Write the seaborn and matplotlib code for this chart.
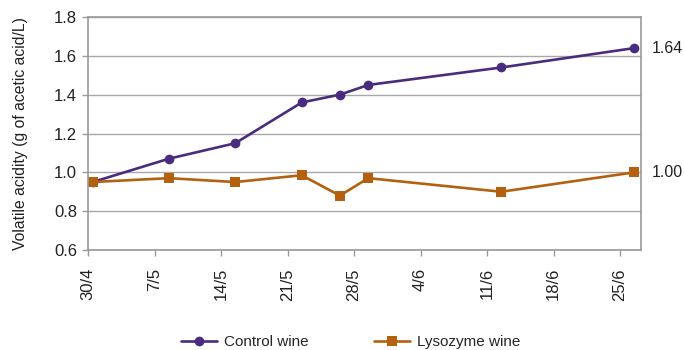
import matplotlib
matplotlib.use("Agg")
import matplotlib.pyplot as plt
import seaborn as sns
import pandas as pd
import numpy as np
from matplotlib.lines import Line2D

# ---- data ----
sample_dates = ["2010-04-30", "2010-05-08", "2010-05-15", "2010-05-22",
                "2010-05-26", "2010-05-29", "2010-06-12", "2010-06-26"]
control_wine = [0.95, 1.07, 1.15, 1.36, 1.40, 1.45, 1.54, 1.64]
lysozyme_wine = [0.95, 0.97, 0.95, 0.985, 0.88, 0.97, 0.90, 1.00]
tick_dates = ["2010-04-30", "2010-05-07", "2010-05-14", "2010-05-21", "2010-05-28",
              "2010-06-04", "2010-06-11", "2010-06-18", "2010-06-25"]
tick_labels = ["30/4", "7/5", "14/5", "21/5", "28/5", "4/6", "11/6", "18/6", "25/6"]
y_ticks = [0.6, 0.8, 1.0, 1.2, 1.4, 1.6, 1.8]
series_names = ["Control wine", "Lysozyme wine"]
end_labels = ["1.64", "1.00"]

sns.set_style("white")
plt.rcParams['font.family'] = ['Liberation Sans', 'DejaVu Sans']

dates = pd.to_datetime(sample_dates) + pd.Timedelta(hours=12)
df = pd.DataFrame({
    "date": list(dates) * 2,
    "value": control_wine + lysozyme_wine,
    "series": [series_names[0]] * len(dates) + [series_names[1]] * len(dates),
})

purple = "#4A2C7E"
orange = "#B5600F"
grid_gray = "#A8A8A8"
txt = "#222222"

fig = plt.figure(figsize=(6.84, 3.5), dpi=100)
ax = fig.add_axes([88 / 684, 1 - 250 / 350, (641 - 88) / 684, (250 - 17) / 350])

sns.lineplot(data=df, x="date", y="value", hue="series", style="series",
             palette=[purple, orange], markers=["o", "s"], dashes=False,
             markersize=7, linewidth=1.9, markeredgewidth=0, ax=ax, legend=False)

start = pd.Timestamp("2010-04-30")
ax.set_xlim(start, start + pd.Timedelta(days=58.2))
ax.set_ylim(0.6, 1.8)
ax.set_yticks(y_ticks)
ax.set_yticklabels([f"{v:.1f}" for v in y_ticks], fontsize=12, color=txt)
ax.set_xticks(pd.to_datetime(tick_dates))
ax.set_xticklabels(tick_labels, rotation=90, fontsize=12, color=txt)
ax.yaxis.grid(True, color=grid_gray, linewidth=1)
ax.xaxis.grid(False)
ax.set_axisbelow(True)
for s in ax.spines.values():
    s.set_color("#999999")
    s.set_linewidth(1.2)
ax.tick_params(axis="both", which="both", length=4, width=1, color="#999999",
               direction="out", pad=4, left=True, bottom=True)
ax.tick_params(axis="x", pad=9)
ax.set_xlabel("")
ax.set_ylabel("Volatile acidity (g of acetic acid/L)", fontsize=11.3, color=txt)
ax.yaxis.set_label_coords(-0.108, 0.5)

for val, lab in zip([control_wine[-1], lysozyme_wine[-1]], end_labels):
    ax.annotate(lab, xy=(1.0, val), xycoords=("axes fraction", "data"),
                xytext=(8, 0), textcoords="offset points", va="center", ha="left",
                fontsize=11.5, color=txt)

handles = [Line2D([0], [0], color=purple, marker="o", markersize=7, linewidth=1.9, markeredgewidth=0),
           Line2D([0], [0], color=orange, marker="s", markersize=7.5, linewidth=1.9, markeredgewidth=0)]
fig.legend(handles, series_names, loc="center", bbox_to_anchor=(351 / 684, 1 - 342 / 350),
           ncol=2, frameon=False, fontsize=11, columnspacing=4.3, handlelength=2.3,
           handletextpad=0.5)

fig.savefig("out.png", dpi=100)
